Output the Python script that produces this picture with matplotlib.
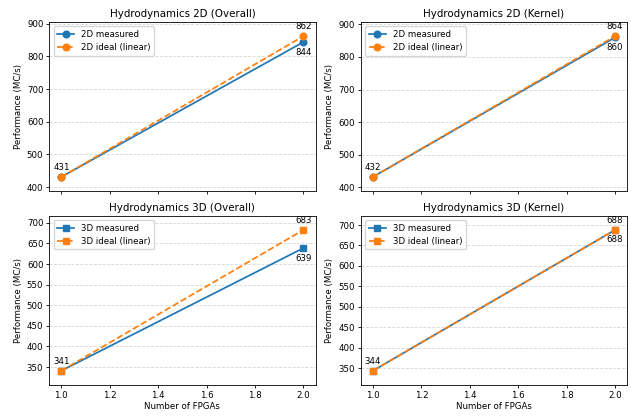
import matplotlib
matplotlib.use("Agg")
import matplotlib.pyplot as plt

fpgas = [1, 2]

titles = ["Hydrodynamics 2D (Overall)", "Hydrodynamics 2D (Kernel)",
          "Hydrodynamics 3D (Overall)", "Hydrodynamics 3D (Kernel)"]
dims = ["2D", "2D", "3D", "3D"]

measured_2d_overall = [431, 844]
ideal_2d_overall = [431, 862]
measured_2d_kernel = [432, 860]
ideal_2d_kernel = [432, 864]
measured_3d_overall = [341, 639]
ideal_3d_overall = [341, 683]
measured_3d_kernel = [344, 688]
ideal_3d_kernel = [344, 688]

measured = [measured_2d_overall, measured_2d_kernel, measured_3d_overall, measured_3d_kernel]
ideal = [ideal_2d_overall, ideal_2d_kernel, ideal_3d_overall, ideal_3d_kernel]

fs = 6.2
fig, axes = plt.subplots(2, 2, figsize=(6.31, 4.16), dpi=100, sharex=True)

for i, ax in enumerate(axes.flat):
    marker = 'o' if dims[i] == "2D" else 's'
    ax.plot(fpgas, measured[i], marker=marker, markersize=4.8, linewidth=1.25,
            color='#1f77b4', label=f"{dims[i]} measured")
    ax.plot(fpgas, ideal[i], marker=marker, markersize=4.8, linewidth=1.25,
            linestyle='--', color='#ff7f0e', label=f"{dims[i]} ideal (linear)")
    # first point label above, measured end below, ideal end above
    ax.annotate(str(measured[i][0]), (fpgas[0], measured[i][0]), textcoords='offset points',
                xytext=(0, 3.5), ha='center', va='bottom', fontsize=fs)
    ax.annotate(str(measured[i][1]), (fpgas[1], measured[i][1]), textcoords='offset points',
                xytext=(0, -4), ha='center', va='top', fontsize=fs)
    ax.annotate(str(ideal[i][1]), (fpgas[1], ideal[i][1]), textcoords='offset points',
                xytext=(0, 3.5), ha='center', va='bottom', fontsize=fs)
    lo = min(measured[i] + ideal[i])
    hi = max(measured[i] + ideal[i])
    ax.set_ylim(lo * 0.9, hi * 1.05)
    ax.set_title(titles[i], fontsize=7.4, pad=3.5)
    ax.set_ylabel("Performance (MC/s)", fontsize=fs, labelpad=3)
    ax.grid(axis='y', linestyle='--', alpha=0.5, linewidth=0.6)
    ax.legend(loc='upper left', fontsize=fs)
    ax.tick_params(labelsize=fs, width=0.6, length=2.2, pad=2)
    for s in ax.spines.values():
        s.set_linewidth(0.6)
    if i >= 2:
        ax.set_xlabel("Number of FPGAs", fontsize=fs, labelpad=2)

fig.subplots_adjust(left=0.078, right=0.994, top=0.947, bottom=0.075,
                    wspace=0.17, hspace=0.147)
plt.savefig("out.png", dpi=100)
